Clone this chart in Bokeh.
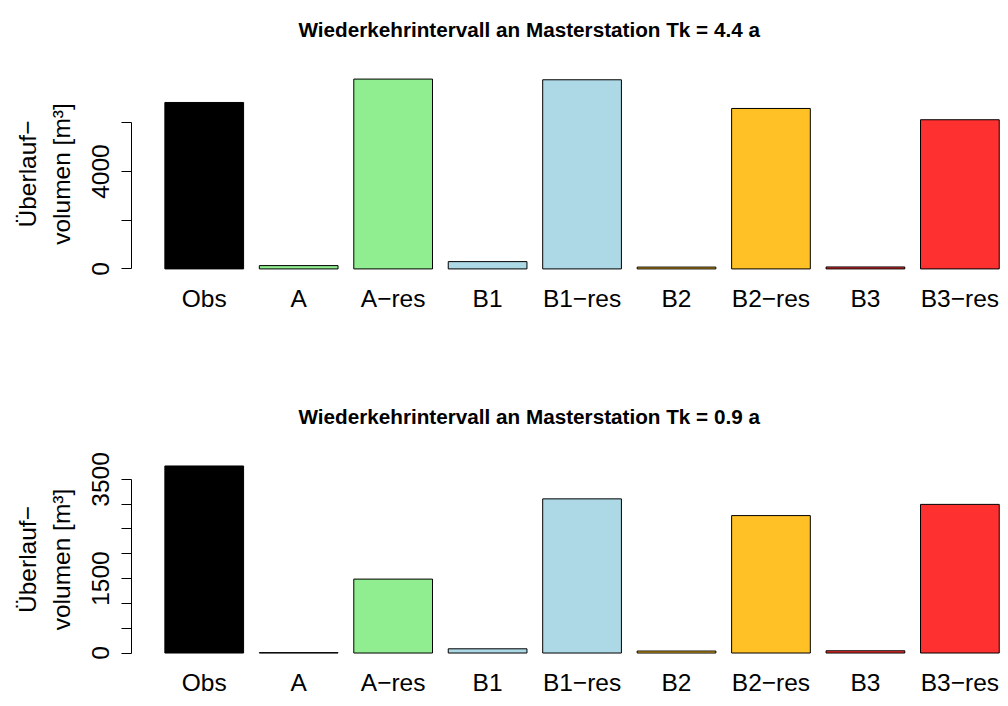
from bokeh.plotting import figure
from bokeh.layouts import column
from bokeh.models import FixedTicker, Title, ColumnDataSource
from bokeh.embed import file_html
from bokeh.resources import INLINE

# ---- data ----
categories = ["Obs", "A", "A−res", "B1", "B1−res", "B2", "B2−res", "B3", "B3−res"]
bar_colors = ["#000000", "#90EE90", "#90EE90", "#ADD8E6", "#ADD8E6",
              "#FFC125", "#FFC125", "#FF3030", "#FF3030"]
values_tk44 = [6842, 135, 7803, 300, 7775, 75, 6596, 80, 6132]
values_tk09 = [3770, 8, 1490, 85, 3107, 40, 2770, 45, 2996]
title_tk44 = "Wiederkehrintervall an Masterstation Tk = 4.4 a"
title_tk09 = "Wiederkehrintervall an Masterstation Tk = 0.9 a"
yticks_tk44 = [0, 2000, 4000, 6000]
ylabels_tk44 = ["0", "", "4000", ""]
yticks_tk09 = [0, 500, 1000, 1500, 2000, 2500, 3000, 3500]
ylabels_tk09 = ["0", "", "", "1500", "", "", "", "3500"]
ylab = "Überlauf−\nvolumen [m³]"

FONT = "Liberation Sans"
LBL = "24.5px"


def panel(values, title, yticks, ylabels, height, b_top, b_bottom):
    n = len(categories)
    xs = list(range(n))
    vmax = max(values)
    p = figure(width=1000, height=height,
               x_range=(-0.77, 8.43), y_range=(-0.04 * vmax, 1.04 * vmax),
               output_backend="svg", toolbar_location=None,
               min_border_left=131, min_border_right=0,
               min_border_top=b_top, min_border_bottom=b_bottom)
    p.outline_line_color = None
    p.xgrid.grid_line_color = None
    p.ygrid.grid_line_color = None
    p.background_fill_color = "white"
    p.border_fill_color = "white"

    src = ColumnDataSource(dict(x=xs, top=values, color=bar_colors))
    p.vbar(x="x", top="top", bottom=0, width=1 / 1.2, fill_color="color",
           line_color="black", line_width=1, source=src)

    xa = p.xaxis[0]
    xa.ticker = FixedTicker(ticks=xs)
    xa.major_label_overrides = {i: c for i, c in enumerate(categories)}
    xa.axis_line_color = None
    xa.major_tick_line_color = None
    xa.minor_tick_line_color = None
    xa.major_tick_out = 0
    xa.major_tick_in = 0
    xa.major_label_standoff = 8
    xa.major_label_text_font = FONT
    xa.major_label_text_font_size = LBL
    xa.major_label_text_color = "black"

    ya = p.yaxis[0]
    ya.ticker = FixedTicker(ticks=yticks)
    ya.major_label_overrides = {t: l for t, l in zip(yticks, ylabels)}
    ya.bounds = (yticks[0], yticks[-1])
    ya.axis_line_color = "black"
    ya.axis_line_width = 1
    ya.major_tick_line_color = "black"
    ya.major_tick_out = 10
    ya.major_tick_in = 0
    ya.minor_tick_line_color = None
    ya.major_label_orientation = "vertical"
    ya.major_label_standoff = 12
    ya.major_label_text_font = FONT
    ya.major_label_text_font_size = LBL
    ya.major_label_text_color = "black"
    ya.axis_label = ylab
    ya.axis_label_text_font = FONT
    ya.axis_label_text_font_size = LBL
    ya.axis_label_text_font_style = "normal"
    ya.axis_label_text_color = "black"
    ya.axis_label_text_line_height = 1.25
    ya.axis_label_standoff = 15

    # invisible spacer next to the frame, then the real title above it
    p.add_layout(Title(text=" ", standoff=13, text_font_size="10px",
                       text_color="white"), "above")
    p.add_layout(Title(text=title, align="left", offset=167, standoff=10,
                       text_font=FONT, text_font_style="bold",
                       text_font_size="20.7px", text_color="black"), "above")
    return p


p1 = panel(values_tk44, title_tk44, yticks_tk44, ylabels_tk44, 353, 71, 77)
p2 = panel(values_tk09, title_tk09, yticks_tk09, ylabels_tk09, 345, 105, 35)

layout = column(p1, p2, spacing=0)
open("out.html", "w").write(file_html(layout, INLINE))
